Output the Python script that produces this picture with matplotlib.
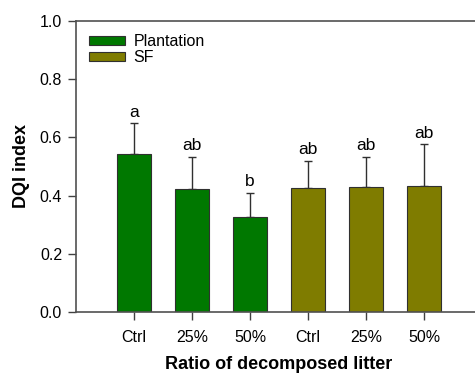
import numpy as np
import matplotlib
matplotlib.use("Agg")
import matplotlib.pyplot as plt
from matplotlib.patches import Patch

plt.rcParams['font.family'] = ['Liberation Sans', 'DejaVu Sans']

# DQI index per treatment (mean and standard error)
labels = ['Ctrl', '25%', '50%', 'Ctrl', '25%', '50%']
groups = ['Plantation', 'Plantation', 'Plantation', 'SF', 'SF', 'SF']
means = [0.543, 0.423, 0.326, 0.426, 0.430, 0.433]
errors = [0.106, 0.110, 0.083, 0.093, 0.103, 0.144]
letters = ['a', 'ab', 'b', 'ab', 'ab', 'ab']

colors = {'Plantation': '#007800', 'SF': '#7f7c00'}

fig = plt.figure(figsize=(4.75, 3.73), dpi=100)
ax = fig.add_axes([76 / 475, 61 / 373, 406 / 475, 291 / 373])

x = np.arange(1, len(means) + 1)
bar_colors = [colors[g] for g in groups]
ax.bar(x, means, width=0.6, color=bar_colors, edgecolor='#303030', linewidth=0.8, zorder=2)
ax.errorbar(x, means, yerr=[np.zeros(len(errors)), errors], fmt='none',
            ecolor='#303030', elinewidth=1, capsize=3, capthick=1, zorder=1)

for xi, m, e, t in zip(x, means, errors, letters):
    ax.text(xi, m + e + 0.012, t, ha='center', va='bottom', fontsize=12.5)

ax.set_xlim(0, 7)
ax.set_ylim(0, 1.0)
ax.set_xticks(x)
ax.set_xticklabels(labels)
ax.set_yticks(np.arange(0, 1.01, 0.2))
ax.set_yticklabels(['%.1f' % v for v in np.arange(0, 1.01, 0.2)])
ax.tick_params(direction='out', length=6, width=1, color='#404040', labelsize=11.5, pad=4)
ax.tick_params(axis='x', pad=7)

for s in ['left', 'bottom', 'top']:
    ax.spines[s].set_color('#505050')
    ax.spines[s].set_linewidth(1.2)
ax.spines['right'].set_visible(False)

ax.set_xlabel('Ratio of decomposed litter', fontsize=13, fontweight='bold', labelpad=8)
ax.set_ylabel('DQI index', fontsize=13, fontweight='bold', labelpad=7)

handles = [Patch(facecolor=colors[g], edgecolor='#303030', linewidth=0.8, label=g)
           for g in ['Plantation', 'SF']]
ax.legend(handles=handles, loc='upper left', frameon=False, fontsize=11.5,
          handlelength=2.25, handleheight=0.5, handletextpad=0.55, labelspacing=0.1,
          borderaxespad=0.4, bbox_to_anchor=(0.0, 1.0))

fig.savefig('out.png', dpi=100)
